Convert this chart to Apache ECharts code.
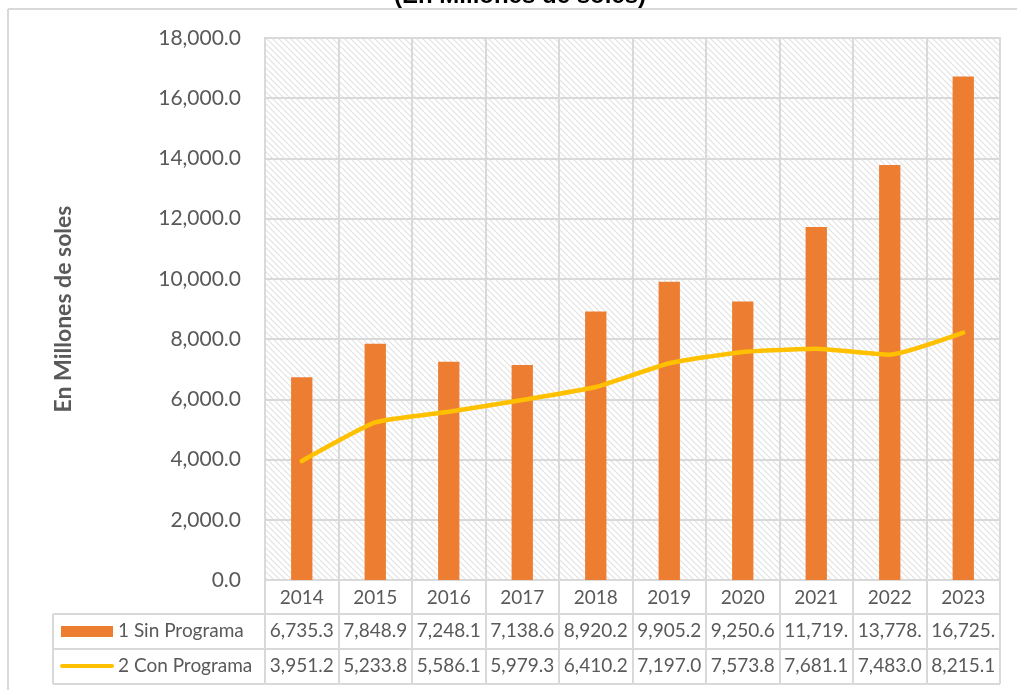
<!DOCTYPE html>
<html>
<head>
<meta charset="utf-8">
<script src="https://cdn.jsdelivr.net/npm/echarts@6/dist/echarts.min.js"></script>
<style>
  html, body { margin: 0; padding: 0; background: #fff; }
  #chart { width: 1017px; height: 690px; }
</style>
</head>
<body>
<div id="chart"></div>
<script>
  // datos
  var years = ['2014', '2015', '2016', '2017', '2018', '2019', '2020', '2021', '2022', '2023']
  var sinPrograma = [6735.3, 7848.9, 7248.1, 7138.6, 8920.2, 9905.2, 9250.6, 11719.3, 13778.4, 16725.2]
  var conPrograma = [3951.2, 5233.8, 5586.1, 5979.3, 6410.2, 7197.0, 7573.8, 7681.1, 7483.0, 8215.1]
  var seriesNames = ['1 Sin Programa', '2 Con Programa']
  var titleText = '(En Millones de soles)'
  var yName = 'En Millones de soles'

  var gray = '#d9d9d9'
  var txt = '#595959'
  var font = 'Lato'

  function fmt(v) {
    return v.toLocaleString('en-US', {minimumFractionDigits: 1, maximumFractionDigits: 1})
  }
  // Excel recorta el texto que no entra en la celda
  function cell(v) {
    return fmt(v).slice(0, 7)
  }

  // trama diagonal del area de trazado
  var tile = document.createElement('canvas')
  tile.width = 6
  tile.height = 6
  var c = tile.getContext('2d')
  c.fillStyle = '#ffffff'
  c.fillRect(0, 0, 6, 6)
  c.strokeStyle = '#e2e2e2'
  c.lineWidth = 1.2
  c.beginPath()
  c.moveTo(-1, -1); c.lineTo(7, 7)
  c.moveTo(-4, 2); c.lineTo(1, 7)
  c.moveTo(5, -1); c.lineTo(8, 2)
  c.stroke()

  var chart = echarts.init(document.getElementById('chart'))

  var option = {
    animation: false,
    color: ['#ED7D31', '#FFC000'],
    grid: {
      left: 265,
      right: 17,
      top: 38,
      bottom: 110,
      show: true,
      borderColor: gray,
      borderWidth: 2,
      backgroundColor: {image: tile, repeat: 'repeat'}
    },
    xAxis: {
      type: 'category',
      data: years,
      boundaryGap: true,
      axisLine: {lineStyle: {color: gray, width: 2}},
      axisTick: {show: true, length: 104, interval: 0, lineStyle: {color: gray, width: 2}},
      splitLine: {show: true, interval: 0, lineStyle: {color: gray, width: 2}},
      axisLabel: {color: txt, fontFamily: font, fontSize: 19, margin: 8, interval: 0}
    },
    yAxis: {
      type: 'value',
      min: 0,
      max: 18000,
      interval: 2000,
      name: yName,
      nameLocation: 'middle',
      nameGap: 190,
      nameTextStyle: {color: txt, fontFamily: font, fontSize: 23, fontWeight: 'bold'},
      axisLine: {show: false},
      axisTick: {show: false},
      splitLine: {lineStyle: {color: gray, width: 2}},
      axisLabel: {
        color: txt, fontFamily: font, fontSize: 21, margin: 24,
        formatter: function (v) { return fmt(v) }
      }
    },
    series: [
      {
        name: seriesNames[0],
        type: 'bar',
        data: sinPrograma,
        barWidth: '29%',
        itemStyle: {color: '#ED7D31'}
      },
      {
        name: seriesNames[1],
        type: 'line',
        data: conPrograma,
        smooth: 0.15,
        showSymbol: false,
        z: 5,
        lineStyle: {color: '#FFC000', width: 4.5, cap: 'round'}
      }
    ]
  }
  chart.setOption(option)

  // tabla de datos bajo el grafico
  var rowY = [631, 666]
  var g = [
    {type: 'text', style: {text: titleText, x: 0, y: 0, fill: '#000', font: 'bold 24px "Liberation Sans"', align: 'center', verticalAlign: 'bottom'}, position: [520, 8]},
    {type: 'line', shape: {x1: 8, y1: 9, x2: 1017, y2: 9}, style: {stroke: gray, lineWidth: 2}},
    {type: 'line', shape: {x1: 8, y1: 9, x2: 8, y2: 690}, style: {stroke: gray, lineWidth: 2}},
    {type: 'line', shape: {x1: 53, y1: 614, x2: 1000, y2: 614}, style: {stroke: gray, lineWidth: 2}},
    {type: 'line', shape: {x1: 53, y1: 649, x2: 1000, y2: 649}, style: {stroke: gray, lineWidth: 2}},
    {type: 'line', shape: {x1: 53, y1: 684, x2: 1000, y2: 684}, style: {stroke: gray, lineWidth: 2}},
    {type: 'line', shape: {x1: 53, y1: 614, x2: 53, y2: 684}, style: {stroke: gray, lineWidth: 2}},
    {type: 'line', shape: {x1: 1000, y1: 580, x2: 1000, y2: 684}, style: {stroke: gray, lineWidth: 2}},
    {type: 'rect', shape: {x: 61, y: 626, width: 52, height: 11}, style: {fill: '#ED7D31'}},
    {type: 'line', shape: {x1: 62, y1: 666, x2: 112, y2: 666}, style: {stroke: '#FFC000', lineWidth: 4, lineCap: 'round'}},
    {type: 'text', style: {text: seriesNames[0], x: 118, y: rowY[0], fill: txt, font: '19px ' + font, verticalAlign: 'middle'}},
    {type: 'text', style: {text: seriesNames[1], x: 118, y: rowY[1], fill: txt, font: '19px ' + font, verticalAlign: 'middle'}}
  ]
  var rows = [sinPrograma, conPrograma]
  rows.forEach(function (row, r) {
    row.forEach(function (v, i) {
      var x = chart.convertToPixel({xAxisIndex: 0}, years[i])
      g.push({type: 'text', style: {text: cell(v), x: x, y: rowY[r], fill: txt, font: '19px ' + font, align: 'center', verticalAlign: 'middle'}})
    })
  })
  chart.setOption({graphic: g})

  window.addEventListener('resize', function () {
    setTimeout(function () { chart.resize() }, 100)
  })
</script>
</body>
</html>
